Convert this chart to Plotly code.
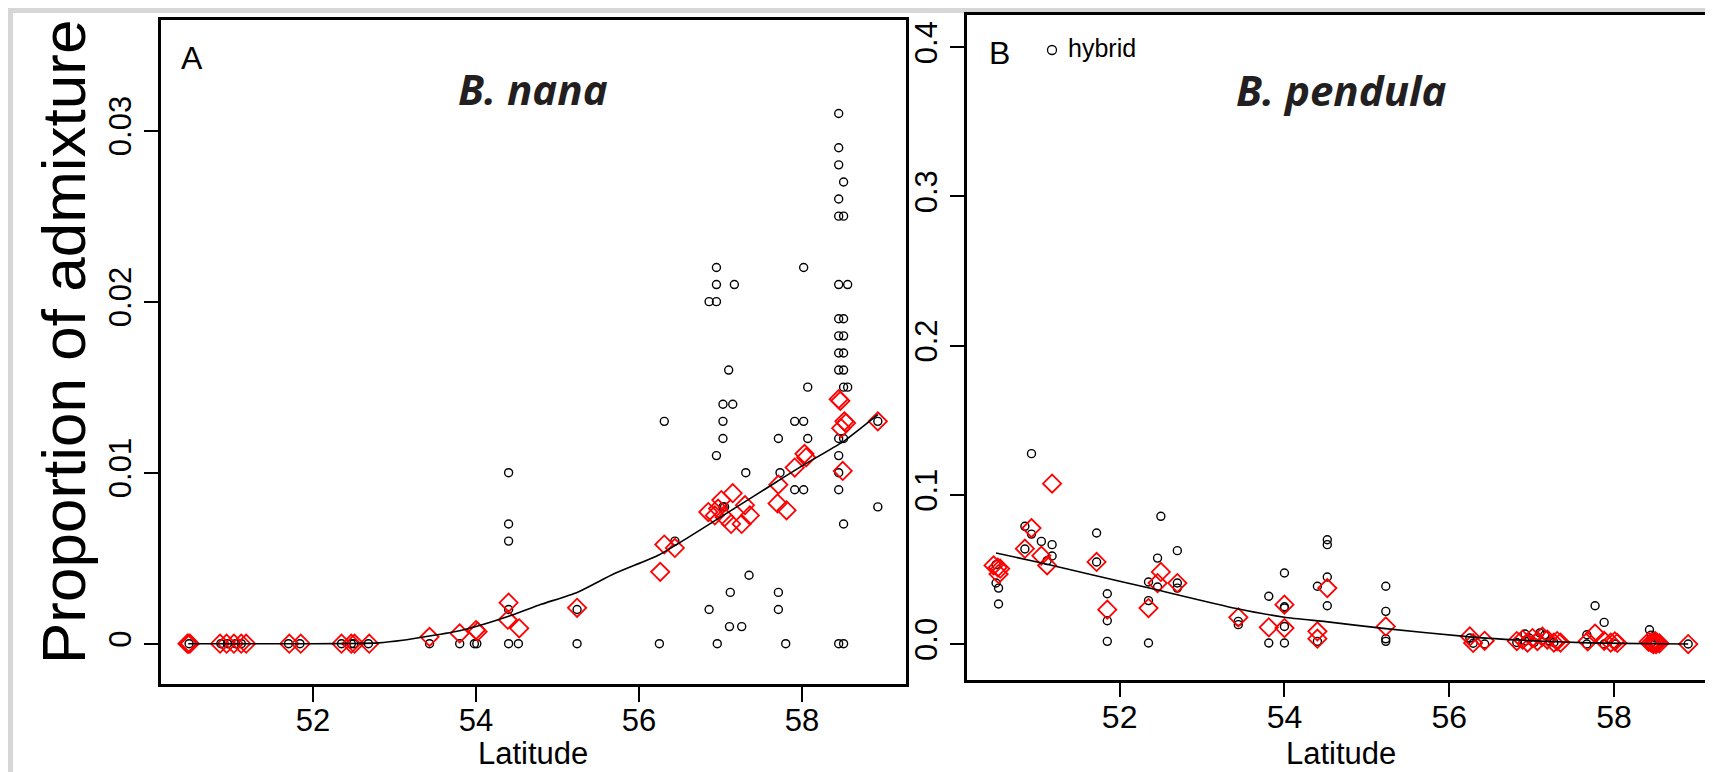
import plotly.graph_objects as go

# ---------------- data ----------------
# Panel A: B. nana
nana_hyb_lat = [50.48, 50.87, 50.95, 51.05, 51.12, 51.70, 51.84, 52.35, 52.47, 52.50, 52.68,
                53.43, 53.80, 53.98, 54.01, 54.40, 54.52, 55.24, 56.25, 56.96, 57.80, 58.45, 58.51,
                54.40, 54.40, 54.40, 54.40, 55.24, 56.31, 56.44,
                56.86, 56.86, 56.95, 56.95, 56.95, 56.95,
                57.03, 57.03, 57.03, 57.03, 57.05, 57.15, 57.10, 57.17,
                57.12, 57.11, 57.26, 57.31, 57.35,
                57.71, 57.71, 57.71, 57.73, 57.91, 57.91, 58.02, 58.02, 58.02, 58.07, 58.07,
                58.45, 58.45, 58.45, 58.45, 58.45, 58.45, 58.45, 58.45, 58.45, 58.45, 58.45, 58.45, 58.45, 58.45,
                58.51, 58.51, 58.51, 58.51, 58.51, 58.51, 58.51, 58.51, 58.51,
                58.56, 58.56, 58.93, 58.93]
nana_hyb_val = [0, 0, 0, 0, 0, 0, 0, 0, 0, 0, 0,
                0, 0, 0, 0, 0, 0, 0, 0, 0, 0, 0, 0,
                0.010, 0.007, 0.006, 0.002, 0.002, 0.013, 0.006,
                0.002, 0.020, 0.020, 0.021, 0.022, 0.011,
                0.012, 0.013, 0.014, 0.008, 0.008, 0.014, 0.016, 0.021,
                0.003, 0.001, 0.001, 0.010, 0.004,
                0.012, 0.003, 0.002, 0.010, 0.013, 0.009, 0.013, 0.009, 0.022, 0.012, 0.015,
                0.031, 0.029, 0.028, 0.026, 0.025, 0.021, 0.019, 0.018, 0.017, 0.016, 0.012, 0.011, 0.010, 0.009,
                0.027, 0.025, 0.019, 0.018, 0.017, 0.016, 0.015, 0.012, 0.007,
                0.021, 0.015, 0.013, 0.008]

nana_pop_lat = [50.46, 50.47, 50.49, 50.86, 50.94, 51.03, 51.12, 51.18, 51.71, 51.85, 52.35, 52.47, 52.51, 52.69,
                53.43, 53.80, 54.00, 54.02, 54.40, 54.39, 54.53, 55.24, 56.26, 56.31, 56.44,
                56.85, 56.93, 56.97, 57.01, 57.05, 57.13, 57.15, 57.26, 57.30, 57.36,
                57.70, 57.71, 57.81, 57.91, 58.03, 58.05,
                58.45, 58.47, 58.48, 58.52, 58.54, 58.50, 58.93]
nana_pop_val = [0, 0, 0, 0, 0, 0, 0, 0, 0, 0, 0, 0, 0, 0,
                0.0004, 0.0006, 0.0008, 0.0007, 0.0024, 0.0014, 0.0009, 0.0021, 0.0042, 0.0058, 0.0056,
                0.0077, 0.0075, 0.0079, 0.0084, 0.0074, 0.0070, 0.0088, 0.0070, 0.0081, 0.0075,
                0.0082, 0.0093, 0.0078, 0.0103, 0.0111, 0.0109,
                0.0143, 0.0142, 0.0126, 0.0130, 0.0129, 0.0101, 0.0130]

nana_fit_lat = [50.47, 51.0, 51.5, 52.0, 52.5, 52.8, 53.1, 53.43, 53.8, 54.0, 54.4, 54.8, 55.24,
                55.7, 56.25, 56.6, 57.0, 57.4, 57.7, 58.0, 58.5, 58.93]
nana_fit_val = [0, 0, 0, 0, 0.00001, 0.00005, 0.0002, 0.00045, 0.00076, 0.0010, 0.0016, 0.0023, 0.0030,
                0.0041, 0.0052, 0.0062, 0.0074, 0.0086, 0.0095, 0.0104, 0.0118, 0.0134]

# Panel B: B. pendula
pend_hyb_lat = [50.50, 50.50, 50.53, 50.53, 50.85, 50.85, 50.93, 50.93, 51.05, 51.18, 51.18, 51.12,
                51.72, 51.72, 51.85, 51.85, 51.85, 52.50, 52.46, 52.46, 52.35, 52.35, 52.35,
                52.70, 52.70, 52.70, 53.44, 53.44, 53.81, 53.81,
                54.00, 54.00, 54.00, 54.00, 54.00, 54.40, 54.40, 54.52, 54.52, 54.52, 54.52,
                55.23, 55.23, 55.23, 55.23, 56.25, 56.29, 56.43,
                56.82, 56.92, 56.92, 56.97, 57.03, 57.10, 57.16, 57.22, 57.27,
                57.67, 57.67, 57.77, 57.88, 57.88, 58.01, 58.43, 58.45, 58.50, 58.50, 58.90]
pend_hyb_val = [0.0532, 0.0409, 0.0375, 0.0268, 0.0789, 0.0637, 0.1276, 0.0737, 0.0688, 0.0666, 0.0590, 0.0559,
                0.0744, 0.0550, 0.0337, 0.0156, 0.0018, 0.0856, 0.0576, 0.0382, 0.0416, 0.0291, 0.0007,
                0.0626, 0.0409, 0.0375, 0.0152, 0.0130, 0.0320, 0.0007,
                0.0476, 0.0250, 0.0241, 0.0118, 0.0007, 0.0387, 0.0018, 0.0699, 0.0666, 0.0449, 0.0257,
                0.0387, 0.0219, 0.0035, 0.0018, 0.0040, 0.0005, 0.0,
                0.001, 0.0067, 0.002, 0.004, 0.001, 0.0074, 0.006, 0.002, 0.001,
                0.0062, 0.0, 0.0257, 0.0145, 0.0, 0.0, 0.0096, 0.006, 0.004, 0.0, 0.0]

pend_pop_lat = [50.47, 50.52, 50.55, 50.53, 50.85, 50.93, 51.05, 51.12, 51.18,
                51.72, 51.85, 52.35, 52.46, 52.50, 52.70,
                53.44, 53.81, 54.00, 54.00, 54.40, 54.40, 54.52, 55.23,
                56.25, 56.29, 56.43,
                56.82, 56.89, 56.95, 57.01, 57.07, 57.13, 57.19, 57.27, 57.31, 57.35,
                57.68, 57.77, 57.88, 57.96, 58.01, 58.04,
                58.42, 58.45, 58.47, 58.50, 58.52, 58.55, 58.48, 58.51, 58.90]
pend_pop_val = [0.0527, 0.0513, 0.0505, 0.0469, 0.0639, 0.0777, 0.0592, 0.0527, 0.1075,
                0.0550, 0.0230, 0.0241, 0.0409, 0.0483, 0.0409,
                0.0179, 0.0112, 0.0264, 0.0107, 0.0085, 0.0036, 0.0375, 0.0118,
                0.0051, 0.0007, 0.0022,
                0.002, 0.003, 0.001, 0.004, 0.002, 0.005, 0.003, 0.001, 0.002, 0.001,
                0.0018, 0.0070, 0.0022, 0.001, 0.0018, 0.0007,
                0.0015, 0.001, 0.0005, 0.002, 0.001, 0.0005, 0.0, 0.0, 0.0]

pend_fit_lat = [50.5, 51.0, 51.7, 52.4, 53.4, 54.0, 54.5, 55.2, 56.25, 56.9, 57.7, 58.5, 58.9]
pend_fit_val = [0.061, 0.055, 0.046, 0.037, 0.024, 0.018, 0.015, 0.0105, 0.0048, 0.0025, 0.0008, 0.0002, 0.0]

x_ticks = [52, 54, 56, 58]
nana_yticks = [0, 0.01, 0.02, 0.03]
nana_ytext = ["0", "0.01", "0.02", "0.03"]
pend_yticks = [0.0, 0.1, 0.2, 0.3, 0.4]
pend_ytext = ["0.0", "0.1", "0.2", "0.3", "0.4"]

# ---------------- figure ----------------
W, H = 1713, 772
def px(x): return x / W
def py(y): return 1 - y / H

FONT = "Liberation Sans, Arial, sans-serif"
fig = go.Figure()

circ = dict(symbol="circle-open", size=8, color="black", line=dict(width=1.4, color="black"))
diam = dict(symbol="diamond-open", size=14, color="#ff0000", line=dict(width=1.8, color="#ff0000"))
fitline = dict(color="black", width=1.6, shape="spline", smoothing=0.5)

fig.add_trace(go.Scatter(x=nana_hyb_lat, y=nana_hyb_val, mode="markers", marker=circ,
                         xaxis="x", yaxis="y", showlegend=False))
fig.add_trace(go.Scatter(x=nana_pop_lat, y=nana_pop_val, mode="markers", marker=diam,
                         xaxis="x", yaxis="y", showlegend=False))
fig.add_trace(go.Scatter(x=nana_fit_lat, y=nana_fit_val, mode="lines", line=fitline,
                         xaxis="x", yaxis="y", showlegend=False))

fig.add_trace(go.Scatter(x=pend_hyb_lat, y=pend_hyb_val, mode="markers", marker=circ,
                         xaxis="x2", yaxis="y2", showlegend=False))
fig.add_trace(go.Scatter(x=pend_pop_lat, y=pend_pop_val, mode="markers", marker=diam,
                         xaxis="x2", yaxis="y2", showlegend=False))
fig.add_trace(go.Scatter(x=pend_fit_lat, y=pend_fit_val, mode="lines", line=fitline,
                         xaxis="x2", yaxis="y2", showlegend=False))

axcommon = dict(showgrid=False, zeroline=False, showline=True, mirror=True, linecolor="black",
                linewidth=2.5, ticks="outside", ticklen=15, tickwidth=2, tickcolor="black",
                automargin=False)

fig.update_layout(
    width=W, height=H, margin=dict(l=0, r=0, t=0, b=0),
    paper_bgcolor="white", plot_bgcolor="white",
    xaxis=dict(domain=[px(153.3), px(897.7)], range=[50.139, 59.272], anchor="y",
               tickvals=x_ticks, ticklabelstandoff=-8,
               tickfont=dict(family=FONT, size=31, color="black"), **axcommon),
    yaxis=dict(domain=[py(676), py(12)], range=[-0.002357, 0.03647], anchor="x",
               tickvals=nana_yticks, ticktext=nana_ytext, tickangle=-90,
               tickfont=dict(family=FONT, size=31, color="black"), **axcommon),
    xaxis2=dict(domain=[px(959.3), px(1707.7)], range=[50.151, 59.234], anchor="y2",
                tickvals=x_ticks, ticklabelstandoff=-8,
                tickfont=dict(family=FONT, size=32, color="black"), **axcommon),
    yaxis2=dict(domain=[py(671.7), py(6.7)], range=[-0.0239, 0.4218], anchor="x2",
                tickvals=pend_yticks, ticktext=pend_ytext, tickangle=-90,
                tickfont=dict(family=FONT, size=31, color="black"), **axcommon),
)

shapes = [
    dict(type="rect", xref="paper", yref="paper", x0=0, x1=1, y0=py(5), y1=1,
         fillcolor="#d7d7d7", line=dict(width=0), layer="below"),
    dict(type="rect", xref="paper", yref="paper", x0=0, x1=px(5), y0=0, y1=1,
         fillcolor="#d7d7d7", line=dict(width=0), layer="below"),
    dict(type="circle", xref="paper", yref="paper", x0=px(1039.5), x1=px(1048.5),
         y0=py(46.5), y1=py(37.5), line=dict(color="black", width=1.3)),
]
fig.update_layout(shapes=shapes)

title_font = dict(family="Open Sans, sans-serif", size=42, color="#231f20", weight="bold", style="italic")
ann = [
    dict(text="Proportion of admixture", x=px(55), y=py(334), textangle=-90,
         font=dict(family=FONT, size=62, color="black")),
    dict(text="Latitude", x=px(525), y=py(745), font=dict(family=FONT, size=31, color="black")),
    dict(text="Latitude", x=px(1333), y=py(745), font=dict(family=FONT, size=31, color="black")),
    dict(text="A", x=px(184), y=py(50), font=dict(family=FONT, size=32, color="black")),
    dict(text="B", x=px(991), y=py(45), font=dict(family=FONT, size=32, color="black")),
    dict(text="B. nana", x=px(525), y=py(80), font=title_font),
    dict(text="B. pendula", x=px(1333), y=py(81), font=title_font),
    dict(text="hybrid", x=px(1058), y=py(40), xanchor="left", font=dict(family=FONT, size=25, color="black")),
]
for a in ann:
    a.setdefault("xanchor", "center")
    a.setdefault("yanchor", "middle")
    a.update(xref="paper", yref="paper", showarrow=False)
fig.update_layout(annotations=ann)

fig.write_html("out.html")
